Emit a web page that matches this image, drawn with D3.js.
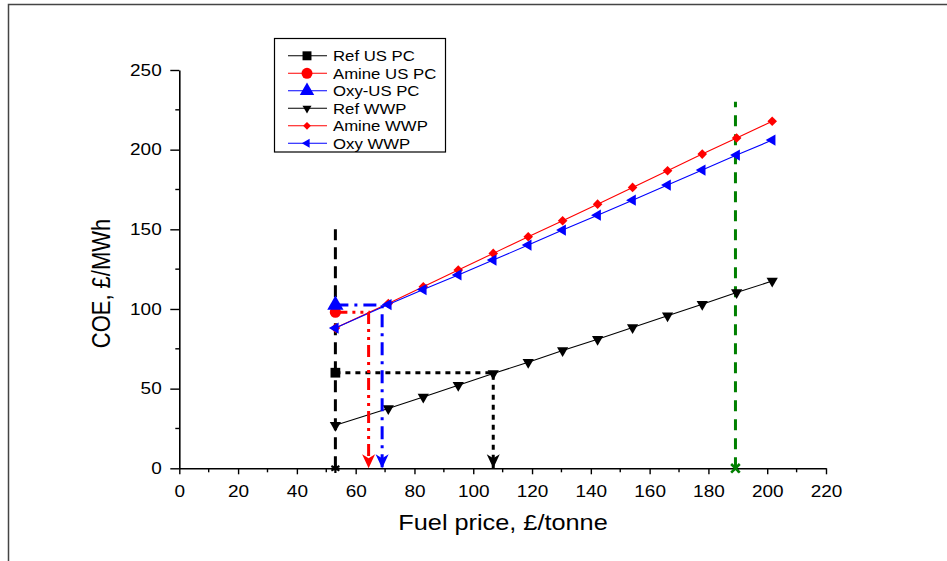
<!DOCTYPE html>
<html>
<head>
<meta charset="utf-8">
<script src="https://cdn.jsdelivr.net/npm/d3@7"></script>
<style>
  body { margin: 0; background: #fff; }
  svg { display: block; font-family: "Liberation Sans", Arial, sans-serif; }
</style>
</head>
<body>
<svg id="chart" width="947" height="561"></svg>
<script>
// fuel price (£/tonne) for the WWP runs
const fuelPrices = [53.1, 71.1, 83.0, 94.9, 106.8, 118.7, 130.4, 142.3, 154.2, 166.1, 177.9, 189.6, 201.7];
const refWWP = [27, 37.5, 44.8, 52.1, 59.5, 66.6, 74, 81, 88.4, 95.7, 103, 110.4, 117.5];
const amineWWP = [88, 103.4, 113.9, 124.4, 134.9, 145.3, 155.4, 165.8, 176.3, 186.8, 197.2, 207.3, 217.8];
const oxyWWP = [88, 102.8, 112.2, 121.4, 130.7, 140.1, 149.5, 158.9, 168.3, 177.8, 187.2, 196.6, 206];

// US PC reference plants (single points at the US coal price)
const usCoalPrice = 53.1;
const refUSPC = 60;
const amineUSPC = 98;
const oxyUSPC = 102.5;

// break-even fuel prices
const refBreakEven = 106.8;
const amineBreakEven = 64.4;
const oxyBreakEven = 69;
const greenPrice = 189.2;
const greenTop = 230;
const usPriceTop = 150;

const xTicks = [0, 20, 40, 60, 80, 100, 120, 140, 160, 180, 200, 220];
const yTicks = [0, 50, 100, 150, 200, 250];

// the original picture is a bit stretched sideways
const stretch = 1.15;

const svg = d3.select("#chart");
const x = d3.scaleLinear().domain([0, 220]).range([179.3, 826]);
const y = d3.scaleLinear().domain([0, 250]).range([468.3, 70]);

// outer frame (top and left edges only visible)
svg.append("path")
  .attr("d", "M8.5,561 V4.5 H947")
  .attr("fill", "none")
  .attr("stroke", "#444")
  .attr("stroke-width", 1.5);

// axes
const yAxis = svg.append("g")
  .attr("transform", `translate(${x(0)},0)`)
  .call(d3.axisLeft(y).tickValues(yTicks).tickSize(9).tickSizeOuter(0));
const xAxis = svg.append("g")
  .attr("transform", `translate(0,${y(0)})`)
  .call(d3.axisBottom(x).tickValues(xTicks).tickSize(6).tickSizeOuter(0));

[yAxis, xAxis].forEach((g) => {
  g.select(".domain").attr("stroke", "#000").attr("stroke-width", 1.6);
  g.selectAll(".tick line").attr("stroke", "#000").attr("stroke-width", 1.4);
  g.selectAll(".tick text")
    .attr("fill", "#000")
    .style("font-size", "16.5px")
    .style("font-family", "'Liberation Sans', Arial, sans-serif");
});
yAxis.selectAll(".tick text")
  .attr("x", 0)
  .attr("transform", `translate(-17.6,0) scale(${stretch},1)`);
xAxis.selectAll(".tick text")
  .attr("y", 0)
  .attr("dy", null)
  .attr("transform", `translate(0,28.4) scale(${stretch},1)`);

// minor ticks
svg.append("g").selectAll("line")
  .data(d3.range(25, 250, 50))
  .join("line")
  .attr("x1", x(0) - 4).attr("x2", x(0))
  .attr("y1", (d) => y(d)).attr("y2", (d) => y(d))
  .attr("stroke", "#000").attr("stroke-width", 1.4);
svg.append("g").selectAll("line")
  .data(d3.range(10, 220, 20))
  .join("line")
  .attr("x1", (d) => x(d)).attr("x2", (d) => x(d))
  .attr("y1", y(0)).attr("y2", y(0) + 4)
  .attr("stroke", "#000").attr("stroke-width", 1.4);

// axis titles
svg.append("text")
  .attr("transform", `translate(503,530) scale(${stretch},1)`)
  .attr("text-anchor", "middle")
  .style("font-size", "22px")
  .text("Fuel price, £/tonne");
svg.append("text")
  .attr("transform", `translate(109.5,283.5) rotate(-90) scale(1,${stretch})`)
  .attr("text-anchor", "middle")
  .style("font-size", "22px")
  .text("COE, £/MWh");

const line = d3.line().x((d) => x(d[0])).y((d) => y(d[1]));

// vertical dashed at US coal price
svg.append("path")
  .attr("d", line([[usCoalPrice, 0], [usCoalPrice, usPriceTop]]))
  .attr("stroke", "#000").attr("stroke-width", 3)
  .attr("stroke-dasharray", "12,7").attr("fill", "none");

// green dashed
svg.append("path")
  .attr("d", line([[greenPrice, 0], [greenPrice, greenTop]]))
  .attr("stroke", "#008000").attr("stroke-width", 3)
  .attr("stroke-dasharray", "11,8").attr("fill", "none");

// series lines
const series = [
  { values: refWWP, color: "#000", symbol: d3.symbolTriangle, rotate: 180, size: 55 },
  { values: amineWWP, color: "#ff0000", symbol: d3.symbolSquare, rotate: 45, size: 46 },
  { values: oxyWWP, color: "#0000ff", symbol: d3.symbolTriangle, rotate: -90, size: 55 },
];

series.forEach((s) => {
  const pts = fuelPrices.map((p, i) => [p, s.values[i]]);
  svg.append("path")
    .attr("d", line(pts))
    .attr("fill", "none")
    .attr("stroke", s.color)
    .attr("stroke-width", 1.1);
  svg.append("g").selectAll("path")
    .data(pts)
    .join("path")
    .attr("transform", (d) => `translate(${x(d[0])},${y(d[1])}) rotate(${s.rotate})`)
    .attr("d", d3.symbol().type(s.symbol).size(s.size))
    .attr("fill", s.color);
});

// guide lines from US PC points down to the break-even fuel price
const guides = [
  { from: refUSPC, to: refBreakEven, color: "#000", dash: "5,5" },
  { from: amineUSPC, to: amineBreakEven, color: "#ff0000", dash: "12,5,3,5,3,5" },
  { from: oxyUSPC, to: oxyBreakEven, color: "#0000ff", dash: "13,6,3,6" },
];
guides.forEach((g) => {
  const pts = [[usCoalPrice, g.from], [g.to, g.from], [g.to, 0]];
  svg.append("path")
    .attr("d", line(pts))
    .attr("fill", "none")
    .attr("stroke", g.color)
    .attr("stroke-width", 3)
    .attr("stroke-dasharray", g.dash);
  // arrow head, tip on the axis
  const ax = x(g.to);
  const ay = y(0);
  svg.append("path")
    .attr("d", `M${ax - 6.5},${ay - 14} L${ax},${ay - 10} L${ax + 6.5},${ay - 14} L${ax},${ay} Z`)
    .attr("fill", g.color);
});

// US PC single points
const usPoints = [
  { value: refUSPC, color: "#000", symbol: d3.symbolSquare, size: 95 },
  { value: amineUSPC, color: "#ff0000", symbol: d3.symbolCircle, size: 100 },
  { value: oxyUSPC, color: "#0000ff", symbol: d3.symbolTriangle, size: 115 },
];
svg.append("g").selectAll("path")
  .data(usPoints)
  .join("path")
  .attr("transform", (d) => `translate(${x(usCoalPrice)},${y(d.value)})`)
  .attr("d", (d) => d3.symbol().type(d.symbol).size(d.size)())
  .attr("fill", (d) => d.color);

// markers on the x axis
svg.append("path")
  .attr("transform", `translate(${x(usCoalPrice)},${y(0)})`)
  .attr("d", d3.symbol().type(d3.symbolAsterisk).size(60))
  .attr("stroke", "#000").attr("stroke-width", 2.2).attr("fill", "none");
svg.append("path")
  .attr("transform", `translate(${x(greenPrice)},${y(0)})`)
  .attr("d", d3.symbol().type(d3.symbolX).size(50))
  .attr("stroke", "#008000").attr("stroke-width", 2.6).attr("fill", "none");

// legend
const legendItems = [
  { label: "Ref US PC", color: "#000", symbol: d3.symbolSquare, size: 80, rotate: 0 },
  { label: "Amine US PC", color: "#ff0000", symbol: d3.symbolCircle, size: 95, rotate: 0 },
  { label: "Oxy-US PC", color: "#0000ff", symbol: d3.symbolTriangle, size: 90, rotate: 0 },
  { label: "Ref WWP", color: "#000", symbol: d3.symbolTriangle, size: 35, rotate: 180 },
  { label: "Amine WWP", color: "#ff0000", symbol: d3.symbolSquare, size: 30, rotate: 45 },
  { label: "Oxy WWP", color: "#0000ff", symbol: d3.symbolTriangle, size: 35, rotate: -90 },
];
const legend = svg.append("g");
legend.append("rect")
  .attr("x", 274.5).attr("y", 38.5)
  .attr("width", 171).attr("height", 113.5)
  .attr("fill", "#fff").attr("stroke", "#000").attr("stroke-width", 1.2);
const rows = legend.selectAll("g.row")
  .data(legendItems)
  .join("g")
  .attr("class", "row")
  .attr("transform", (d, i) => `translate(0,${55.8 + i * 17.5})`);
rows.append("line")
  .attr("x1", 288).attr("x2", 327)
  .attr("stroke", (d) => d.color).attr("stroke-width", 1.1);
rows.append("path")
  .attr("transform", (d) => `translate(307,0) rotate(${d.rotate})`)
  .attr("d", (d) => d3.symbol().type(d.symbol).size(d.size)())
  .attr("fill", (d) => d.color);
rows.append("text")
  .attr("transform", "translate(333,5.6) scale(1.08,1)")
  .style("font-size", "15.5px")
  .text((d) => d.label);
</script>
</body>
</html>
